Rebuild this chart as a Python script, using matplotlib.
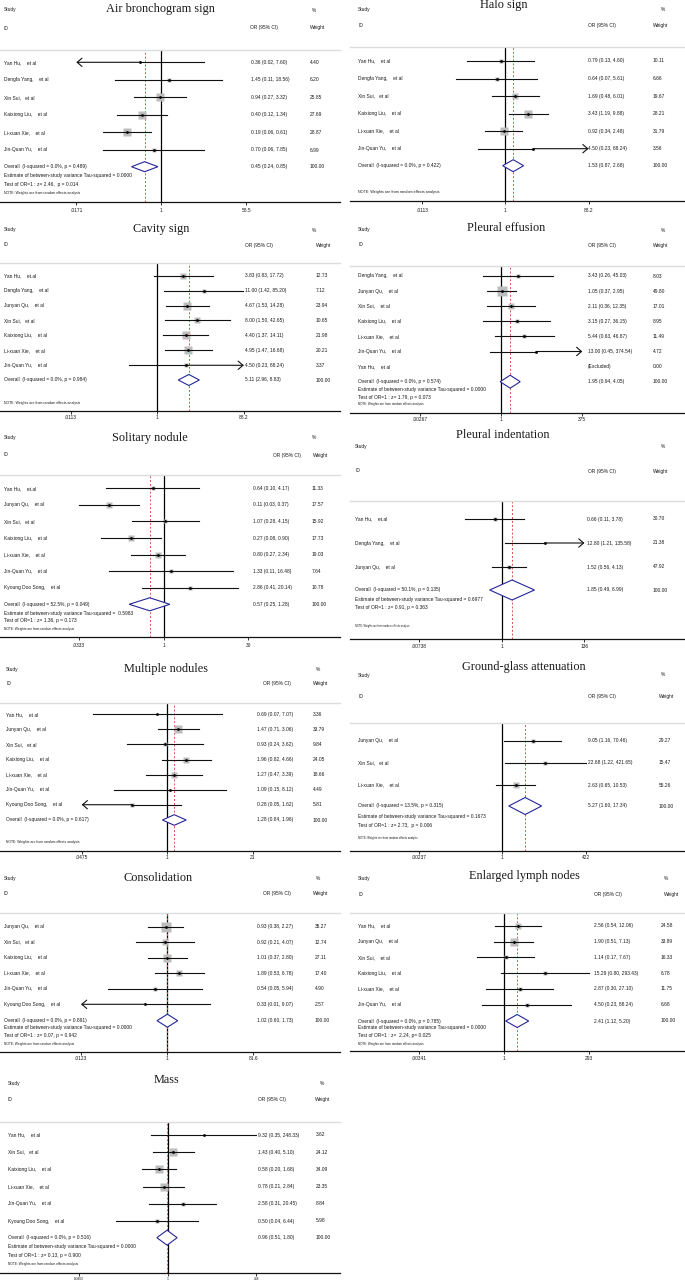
import matplotlib
matplotlib.use('Agg')
import matplotlib.pyplot as plt
import matplotlib.transforms as mtransforms
from matplotlib.patches import Polygon
from matplotlib.ticker import NullLocator
import numpy as np

W, H = 685, 1281
SANS = ['Liberation Sans', 'DejaVu Sans']
SERIF = ['Liberation Serif', 'DejaVu Serif']
NOTE = "NOTE: Weights are from random effects analysis"

# ---------------- data ----------------
air_title = "Air bronchogram sign"
air_study = ["Yan Hu,    et al", "Dengfa Yang,    et al", "Xin Sui,   et al", "Kaixiong Liu,    et al",
             "Li-xuan Xie,    et al", "Jin-Quan Yu,    et al"]
air_or = [0.36, 1.45, 0.94, 0.40, 0.19, 0.70]
air_lo = [0.02, 0.11, 0.27, 0.12, 0.06, 0.06]
air_hi = [7.60, 18.56, 3.32, 1.34, 0.61, 7.85]
air_w = [4.40, 6.20, 25.85, 27.69, 28.87, 6.99]
air_arrow = ['L', '', '', '', '', '']
air_overall = "Overall  (I-squared = 0.0%, p = 0.489)"
air_pool = [0.45, 0.24, 0.85]
air_stats = ["Estimate of between-study variance Tau-squared = 0.0000", "Test of OR=1 : z= 2.46,  p = 0.014"]
air_ticks = [".0171", "1", "58.5"]

halo_title = "Halo sign"
halo_study = ["Yan Hu,    et al", "Dengfa Yang,    et al", "Xin Sui,   et al", "Kaixiong Liu,    et al",
              "Li-xuan Xie,    et al", "Jin-Quan Yu,    et al"]
halo_or = [0.79, 0.64, 1.69, 3.43, 0.92, 4.50]
halo_lo = [0.13, 0.07, 0.48, 1.19, 0.34, 0.23]
halo_hi = [4.60, 5.61, 6.01, 9.88, 2.48, 88.24]
halo_w = [10.11, 6.66, 19.67, 28.21, 31.79, 3.56]
halo_arrow = ['', '', '', '', '', 'R']
halo_overall = "Overall  (I-squared = 0.0%, p = 0.422)"
halo_pool = [1.53, 0.87, 2.68]
halo_stats = []
halo_ticks = [".0113", "1", "88.2"]

cav_title = "Cavity sign"
cav_study = ["Yan Hu,    et.al", "Dengfa Yang,    et al", "Junyan Qu,    et al", "Xin Sui,   et al",
             "Kaixiong Liu,    et al", "Li-xuan Xie,    et al", "Jin-Quan Yu,    et al"]
cav_or = [3.83, 11.00, 4.67, 8.00, 4.40, 4.95, 4.50]
cav_lo = [0.83, 1.42, 1.53, 1.50, 1.37, 1.47, 0.23]
cav_hi = [17.72, 85.20, 14.28, 42.65, 14.11, 16.68, 88.24]
cav_w = [12.73, 7.12, 23.94, 10.65, 21.98, 20.21, 3.37]
cav_arrow = ['', '', '', '', '', '', 'R']
cav_overall = "Overall  (I-squared = 0.0%, p = 0.984)"
cav_pool = [5.11, 2.96, 8.83]
cav_stats = []
cav_ticks = [".0113", "1", "88.2"]

eff_title = "Pleural effusion"
eff_study = ["Dengfa Yang,    et al", "Junyan Qu,    et al", "Xin Sui,    et al", "Kaixiong Liu,    et al",
             "Li-xuan Xie,    et al", "Jin-Quan Yu,    et al", "Yan Hu,    et al"]
eff_or = [3.43, 1.05, 2.11, 3.15, 5.44, 13.00, None]
eff_lo = [0.26, 0.37, 0.36, 0.27, 0.63, 0.45, None]
eff_hi = [45.03, 2.95, 12.35, 36.15, 46.87, 374.54, None]
eff_w = [8.03, 49.80, 17.01, 8.95, 11.49, 4.72, 0.00]
eff_arrow = ['', '', '', '', '', 'R', '']
eff_overall = "Overall  (I-squared = 0.0%, p = 0.574)"
eff_pool = [1.95, 0.94, 4.05]
eff_stats = ["Estimate of between-study variance Tau-squared = 0.0000", "Test of OR=1 : z= 1.79, p = 0.073"]
eff_ticks = [".00267", "1", "375"]

sol_title = "Solitary nodule"
sol_study = ["Yan Hu,    et.al", "Junyan Qu,    et al", "Xin Sui,   et al", "Kaixiong Liu,    et al",
             "Li-xuan Xie,    et al", "Jin-Quan Yu,    et al", "Kyoung Doo Song,    et al"]
sol_or = [0.64, 0.11, 1.07, 0.27, 0.80, 1.33, 2.86]
sol_lo = [0.10, 0.03, 0.28, 0.08, 0.27, 0.11, 0.41]
sol_hi = [4.17, 0.37, 4.15, 0.90, 2.34, 16.48, 20.14]
sol_w = [11.33, 17.57, 15.92, 17.73, 19.03, 7.64, 10.78]
sol_arrow = ['', '', '', '', '', '', '']
sol_overall = "Overall  (I-squared = 52.5%, p = 0.049)"
sol_pool = [0.57, 0.25, 1.28]
sol_stats = ["Estimate of between-study variance Tau-squared =  0.5983", "Test of OR=1 : z= 1.36, p = 0.173"]
sol_ticks = [".0333", "1", "30"]

ind_title = "Pleural indentation"
ind_study = ["Yan Hu,    et.al", "Dengfa Yang,    et al", "Junyan Qu,    et al"]
ind_or = [0.66, 12.80, 1.52]
ind_lo = [0.11, 1.21, 0.56]
ind_hi = [3.78, 135.58, 4.13]
ind_w = [30.70, 21.38, 47.92]
ind_arrow = ['', 'R', '']
ind_overall = "Overall  (I-squared = 50.1%, p = 0.135)"
ind_pool = [1.85, 0.49, 6.99]
ind_stats = ["Estimate of between-study variance Tau-squared = 0.6977", "Test of OR=1 : z= 0.91, p = 0.363"]
ind_ticks = [".00738", "1", "136"]

mul_title = "Multiple nodules"
mul_study = ["Yan Hu,    et al", "Junyan Qu,    et al", "Xin Sui,   et al", "Kaixiong Liu,    et al",
             "Li-xuan Xie,    et al", "Jin-Quan Yu,    et al", "Kyoung Doo Song,    et al"]
mul_or = [0.69, 1.47, 0.93, 1.96, 1.27, 1.09, 0.28]
mul_lo = [0.07, 0.71, 0.24, 0.82, 0.47, 0.15, 0.05]
mul_hi = [7.07, 3.06, 3.62, 4.66, 3.39, 8.12, 1.62]
mul_w = [3.36, 33.79, 9.84, 24.05, 18.66, 4.49, 5.81]
mul_arrow = ['', '', '', '', '', '', 'L']
mul_overall = "Overall  (I-squared = 0.0%, p = 0.617)"
mul_pool = [1.28, 0.84, 1.96]
mul_stats = []
mul_ticks = [".0475", "1", "21"]

gg_title = "Ground-glass attenuation"
gg_study = ["Junyan Qu,    et al", "Xin Sui,   et al", "Li-xuan Xie,    et al"]
gg_or = [9.05, 22.68, 2.63]
gg_lo = [1.16, 1.22, 0.65]
gg_hi = [70.46, 421.65, 10.53]
gg_w = [29.27, 15.47, 55.26]
gg_arrow = ['', '', '']
gg_overall = "Overall  (I-squared = 13.5%, p = 0.315)"
gg_pool = [5.27, 1.60, 17.34]
gg_stats = ["Estimate of between-study variance Tau-squared = 0.1673", "Test of OR=1 : z= 2.73,  p = 0.006"]
gg_ticks = [".00237", "1", "422"]

con_title = "Consolidation"
con_study = ["Junyan Qu,    et al", "Xin Sui,   et al", "Kaixiong Liu,    et al", "Li-xuan Xie,    et al",
             "Jin-Quan Yu,    et al", "Kyoung Doo Song,    et al"]
con_or = [0.93, 0.92, 1.01, 1.89, 0.54, 0.33]
con_lo = [0.38, 0.21, 0.37, 0.53, 0.05, 0.01]
con_hi = [2.27, 4.07, 2.80, 6.76, 5.94, 9.07]
con_w = [35.27, 12.74, 27.11, 17.40, 4.90, 2.57]
con_arrow = ['', '', '', '', '', 'L']
con_overall = "Overall  (I-squared = 0.0%, p = 0.891)"
con_pool = [1.02, 0.60, 1.73]
con_stats = ["Estimate of between-study variance Tau-squared = 0.0000", "Test of OR=1 : z= 0.07, p = 0.942"]
con_ticks = [".0123", "1", "81.6"]

lym_title = "Enlarged lymph nodes"
lym_study = ["Yan Hu,    et al", "Junyan Qu,    et al", "Xin Sui,    et al", "Kaixiong Liu,    et al",
             "Li-xuan Xie,    et al", "Jin-Quan Yu,    et al"]
lym_or = [2.56, 1.90, 1.14, 15.29, 2.87, 4.50]
lym_lo = [0.54, 0.51, 0.17, 0.80, 0.30, 0.23]
lym_hi = [12.06, 7.13, 7.67, 293.43, 27.10, 88.24]
lym_w = [24.58, 33.89, 16.33, 6.78, 11.75, 6.68]
lym_arrow = ['', '', '', '', '', '']
lym_overall = "Overall  (I-squared = 0.0%, p = 0.785)"
lym_pool = [2.41, 1.12, 5.20]
lym_stats = ["Estimate of between-study variance Tau-squared = 0.0000", "Test of OR=1 : z=  2.24, p= 0.025"]
lym_ticks = [".00341", "1", "293"]

mass_title = "Mass"
mass_study = ["Yan Hu,    et al", "Xin Sui,   et al", "Kaixiong Liu,    et al", "Li-xuan Xie,    et al",
              "Jin-Quan Yu,    et al", "Kyoung Doo Song,    et al"]
mass_or = [9.32, 1.43, 0.58, 0.78, 2.58, 0.50]
mass_lo = [0.35, 0.40, 0.20, 0.21, 0.31, 0.04]
mass_hi = [248.33, 5.10, 1.68, 2.84, 20.45, 6.44]
mass_w = [3.62, 24.12, 34.09, 23.35, 8.84, 5.98]
mass_arrow = ['', '', '', '', '', '']
mass_overall = "Overall  (I-squared = 0.0%, p = 0.516)"
mass_pool = [0.96, 0.51, 1.80]
mass_stats = ["Estimate of between-study variance Tau-squared = 0.0000", "Test of OR=1 : z= 0.13, p = 0.900"]
mass_ticks = [".00403", "1", "248"]

# ---------------- drawing ----------------
fig = plt.figure(figsize=(W / 100, H / 100), dpi=100)
TXT = '#1a1a1a'
FS = 3.5


def panel(title, study, ors, los, his, ws, arrows, overall, pool, stats, ticks, L):
    x0, x1 = L['x']
    axis_y, sep_y = L['axis'], L['sep']
    ax = fig.add_axes([x0 / W, 1 - axis_y / H, (x1 - x0) / W, (axis_y - sep_y) / H])
    ax.patch.set_alpha(0)
    ax.set_xscale('log')
    tlo, thi = float(ticks[0]), float(ticks[2])
    d = -np.log10(tlo) / (L['px1'] - L['pxlo'])
    ax.set_xlim(10 ** ((x0 - L['px1']) * d), 10 ** ((x1 - L['px1']) * d))
    ax.set_ylim(axis_y, sep_y)
    for s in ['left', 'right']:
        ax.spines[s].set_visible(False)
    ax.spines['top'].set_color('#dcdcdc')
    ax.spines['top'].set_linewidth(1.0)
    ax.spines['bottom'].set_color('#111111')
    ax.spines['bottom'].set_linewidth(0.9)
    ax.set_yticks([])
    ax.set_xticks([tlo, 1, thi])
    ax.set_xticklabels([])
    ax.xaxis.set_minor_locator(NullLocator())
    ax.tick_params(axis='x', length=2, width=0.6, color='#111111')
    for v, lab in zip([tlo, 1, thi], ticks):
        ax.text(v, L['tly'], lab, ha='center', va='center', fontsize=L.get('tfs', FS),
                family=SANS, color=TXT, clip_on=False)

    tr = mtransforms.blended_transform_factory(fig.transFigure, ax.transData)

    def t(px, y, s, **kw):
        kw.setdefault('fontsize', FS)
        ax.text(px / W, y, s, transform=tr, ha=kw.pop('ha', 'left'), va='center',
                family=kw.pop('family', SANS), color=TXT, clip_on=False, **kw)

    t(L['tx'], L['ty'], title, ha='center', family=SERIF, fontsize=8.8)
    t(L['lab'], L['sy'], "Study")
    t(L['pct'], L['sy'], "%")
    t(L['lab'], L['iy'], "ID")
    t(L['hor'], L['iy'], "OR (95% CI)")
    t(L['hw'], L['iy'], "Weight")

    ax.axvline(1, color='black', lw=0.9, zorder=1)
    ax.axvline(pool[0], color='#d9534f', lw=0.7, ls=(0, (2, 2)), zorder=1)

    k = L['k']
    for i, (nm, o, lo, hi, w, ar) in enumerate(zip(study, ors, los, his, ws, arrows)):
        y = L['r0'] + i * L['step']
        t(L['lab'], y, nm)
        t(L['wx'], y, f"{w:.2f}")
        if o is None:
            t(L['orx'], y, "(Excluded)")
            continue
        t(L['orx'], y, f"{o:.2f} ({lo:.2f}, {hi:.2f})")
        lo_c, hi_c = max(lo, tlo), min(hi, thi)
        ax.plot([o], [y], 's', ms=k * np.sqrt(w) * 0.72, color='#bdbdbd', mec='none', zorder=2)
        if ar == 'L':
            ax.plot([o, hi_c], [y, y], color='#111111', lw=0.8, zorder=3)
            ax.annotate('', xy=(tlo, y), xytext=(o, y),
                        arrowprops=dict(arrowstyle='->,head_length=0.35,head_width=0.3',
                                        lw=0.8, color='#111111', shrinkA=0, shrinkB=0), zorder=3)
        elif ar == 'R':
            ax.plot([lo_c, o], [y, y], color='#111111', lw=0.8, zorder=3)
            ax.annotate('', xy=(thi, y), xytext=(o, y),
                        arrowprops=dict(arrowstyle='->,head_length=0.35,head_width=0.3',
                                        lw=0.8, color='#111111', shrinkA=0, shrinkB=0), zorder=3)
        else:
            ax.plot([lo_c, hi_c], [y, y], color='#111111', lw=0.8, zorder=3)
        ax.plot([o], [y], 'o', ms=2.0, color='black', mec='none', zorder=4)

    yo = L['oy']
    t(L['lab'], yo, overall)
    t(L['orx'], yo, f"{pool[0]:.2f} ({pool[1]:.2f}, {pool[2]:.2f})")
    t(L['wx'], yo, "100.00")
    dh = L['dh']
    ax.add_patch(Polygon([(pool[1], yo), (pool[0], yo - dh), (pool[2], yo), (pool[0], yo + dh)],
                         closed=True, fill=True, fc='white', ec='#26269a', lw=0.8, zorder=5))
    for s, y in zip(stats, L['st']):
        t(L['lab'], y, s)
    t(L['lab'], L['ny'], NOTE, fontsize=L.get('nfs', 2.4))


LX = (0, 340)
RX = (350, 685)

panel(air_title, air_study, air_or, air_lo, air_hi, air_w, air_arrow, air_overall, air_pool, air_stats, air_ticks,
      dict(x=LX, px1=161.3, pxlo=76.3, tx=160, ty=9, sy=10, iy=28, sep=49.5, r0=62.3, step=17.54, oy=166.7,
           st=[175.7, 184.3], ny=192.7, axis=201.7, tly=210, lab=4, orx=251, wx=310, hor=250, hw=310, pct=312,
           k=1.43, dh=5, nfs=2.5))
panel(halo_title, halo_study, halo_or, halo_lo, halo_hi, halo_w, halo_arrow, halo_overall, halo_pool, halo_stats,
      halo_ticks,
      dict(x=RX, px1=505.3, pxlo=422, tx=504, ty=5.5, sy=9.3, iy=26, sep=46.7, r0=61, step=17.54, oy=165.7,
           st=[], ny=192.3, axis=201, tly=210, lab=358, orx=588, wx=653, hor=588, hw=653, pct=661,
           k=1.55, dh=6, nfs=2.7))
panel(cav_title, cav_study, cav_or, cav_lo, cav_hi, cav_w, cav_arrow, cav_overall, cav_pool, cav_stats, cav_ticks,
      dict(x=LX, px1=157.3, pxlo=70.7, tx=161, ty=229.3, sy=230, iy=245, sep=262.7, r0=275.7, step=14.93, oy=380,
           st=[], ny=402.7, axis=410.7, tly=417.7, lab=4, orx=245, wx=316, hor=245, hw=316, pct=312,
           k=1.65, dh=5.5, nfs=2.5))
panel(eff_title, eff_study, eff_or, eff_lo, eff_hi, eff_w, eff_arrow, eff_overall, eff_pool, eff_stats, eff_ticks,
      dict(x=RX, px1=501, pxlo=419.7, tx=506, ty=227.7, sy=230, iy=245, sep=265.7, r0=276, step=15.1, oy=381.7,
           st=[389.7, 397.3], ny=404.3, axis=413.3, tly=419.5, lab=358, orx=588, wx=653, hor=588, hw=653, pct=661,
           k=1.3, dh=6.5, nfs=2.2))
panel(sol_title, sol_study, sol_or, sol_lo, sol_hi, sol_w, sol_arrow, sol_overall, sol_pool, sol_stats, sol_ticks,
      dict(x=LX, px1=163.7, pxlo=79, tx=150, ty=437.7, sy=437.7, iy=455, sep=475, r0=488.3, step=16.6, oy=604.3,
           st=[613.3, 620.7], ny=629.3, axis=637.3, tly=645.7, lab=4, orx=253, wx=312, hor=273, hw=313, pct=312,
           k=1.25, dh=6.5, nfs=2.3))
panel(ind_title, ind_study, ind_or, ind_lo, ind_hi, ind_w, ind_arrow, ind_overall, ind_pool, ind_stats, ind_ticks,
      dict(x=RX, px1=501.7, pxlo=419, tx=503, ty=435, sy=446.7, iy=471, sep=500.7, r0=519, step=24, oy=590,
           st=[599, 608], ny=625.7, axis=638.7, tly=646.7, lab=355, orx=587, wx=653, hor=588, hw=653, pct=661,
           k=0.63, dh=10, nfs=1.8))
panel(mul_title, mul_study, mul_or, mul_lo, mul_hi, mul_w, mul_arrow, mul_overall, mul_pool, mul_stats, mul_ticks,
      dict(x=LX, px1=167.3, pxlo=81.7, tx=165.7, ty=669.3, sy=669.3, iy=683.3, sep=702.7, r0=714.3, step=15.07,
           oy=820, st=[], ny=841.7, axis=851, tly=857.7, lab=6, orx=257, wx=313, hor=263, hw=313, pct=316,
           k=1.38, dh=5.3, nfs=2.4))
panel(gg_title, gg_study, gg_or, gg_lo, gg_hi, gg_w, gg_arrow, gg_overall, gg_pool, gg_stats, gg_ticks,
      dict(x=RX, px1=502.3, pxlo=419, tx=524, ty=667.3, sy=675, iy=696.7, sep=723.3, r0=740.7, step=22.2, oy=806,
           st=[816.7, 826], ny=838.3, axis=850.7, tly=857.7, lab=358, orx=588, wx=659, hor=588, hw=659, pct=661,
           k=0.77, dh=8.5, nfs=2.0))
panel(con_title, con_study, con_or, con_lo, con_hi, con_w, con_arrow, con_overall, con_pool, con_stats, con_ticks,
      dict(x=LX, px1=167, pxlo=81, tx=158.3, ty=878.3, sy=878.3, iy=893.7, sep=913.3, r0=926.7, step=15.52,
           oy=1020.7, st=[1028, 1035], ny=1043.7, axis=1051.7, tly=1059, lab=3.5, orx=256.7, wx=315, hor=263,
           hw=313, pct=316, k=1.6, dh=6.5, nfs=2.3))
panel(lym_title, lym_study, lym_or, lym_lo, lym_hi, lym_w, lym_arrow, lym_overall, lym_pool, lym_stats, lym_ticks,
      dict(x=RX, px1=504, pxlo=419, tx=524.7, ty=875.7, sy=878.3, iy=894.3, sep=913.3, r0=925.7, step=15.8, oy=1021,
           st=[1027.3, 1035], ny=1044, axis=1051, tly=1059, lab=358, orx=594, wx=661, hor=594, hw=664, pct=664,
           k=1.23, dh=6.5, nfs=2.2))
panel(mass_title, mass_study, mass_or, mass_lo, mass_hi, mass_w, mass_arrow, mass_overall, mass_pool, mass_stats,
      mass_ticks,
      dict(x=LX, px1=167.7, pxlo=79, tx=166.7, ty=1080, sy=1083.3, iy=1099.3, sep=1121.7, r0=1135, step=17.2,
           oy=1237.7, st=[1246.7, 1255], ny=1264, axis=1273.3, tly=1279, lab=8, orx=258, wx=316, hor=258, hw=315,
           pct=320, k=1.45, dh=7.5, nfs=2.3, tfs=2.3))

fig.savefig('out.png', dpi=100, facecolor='white')
